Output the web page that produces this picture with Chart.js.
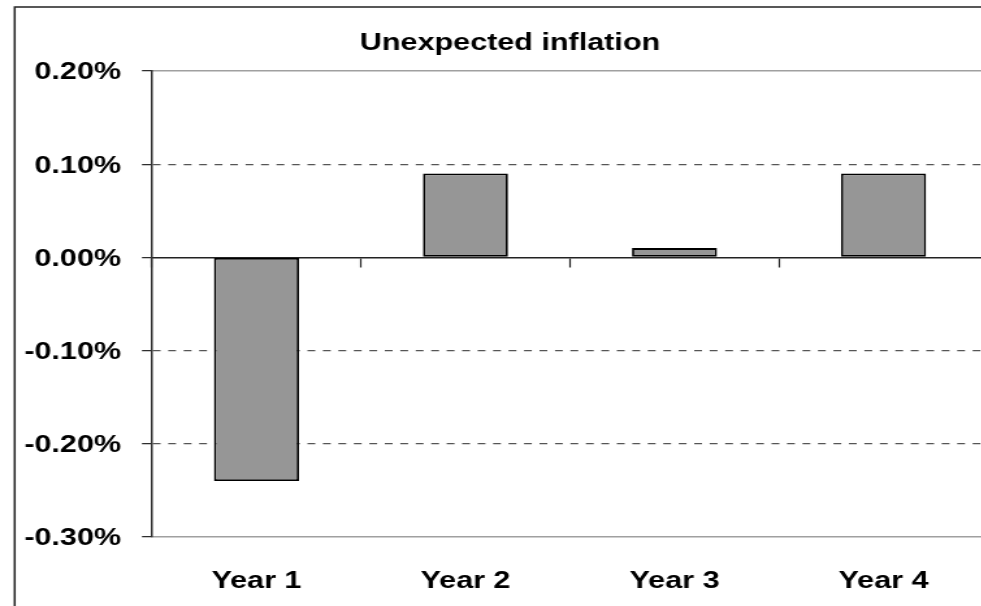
<!DOCTYPE html>
<html>
<head>
<meta charset="utf-8">
<title>Unexpected inflation</title>
<script src="https://cdn.jsdelivr.net/npm/chart.js@4.4.0/dist/chart.umd.min.js"></script>
<style>
  html, body { margin: 0; padding: 0; background: #fff; overflow: hidden; }
</style>
</head>
<body>
<!-- drawn 790 wide, shown 1.3x wider so the bold labels come out broad -->
<canvas id="chart" width="790" height="606" style="width:1027px;height:606px;"></canvas>
<script>
// values in percent
const years = ["Year 1", "Year 2", "Year 3", "Year 4"];
const inflation = [-0.24, 0.09, 0.01, 0.09];
const yMin = -0.30;
const yMax = 0.20;
const yStep = 0.10;
const chartTitle = "Unexpected inflation";

const boldFont = { family: "'Liberation Sans', Arial, sans-serif", size: 23.5, weight: "bold" };

const isEdgeOrZero = v => Math.abs(v) < 1e-9 || Math.abs(v - yMax) < 1e-9 || Math.abs(v - yMin) < 1e-9;

// white page + thin frame on the left and top
const framePlugin = {
  id: "frame",
  beforeDraw(chart) {
    const ctx = chart.ctx;
    ctx.save();
    ctx.fillStyle = "#fff";
    ctx.fillRect(0, 0, chart.width, chart.height);
    ctx.strokeStyle = "#222";
    ctx.lineWidth = 1.5;
    ctx.beginPath();
    ctx.moveTo(11.3, chart.height);
    ctx.lineTo(11.3, 7);
    ctx.lineTo(chart.width, 7);
    ctx.stroke();
    ctx.restore();
  }
};

new Chart(document.getElementById("chart"), {
  type: "bar",
  data: {
    labels: years,
    datasets: [{
      data: inflation,
      backgroundColor: "#969696",
      borderColor: "#000",
      borderWidth: 1.8,
      borderSkipped: false,
      barPercentage: 0.407,
      categoryPercentage: 1
    }]
  },
  options: {
    responsive: false,
    animation: false,
    devicePixelRatio: 1,
    layout: { padding: { left: 0, right: 5.4, top: 0, bottom: 0 } },
    plugins: {
      legend: { display: false },
      tooltip: { enabled: false },
      title: {
        display: true,
        text: chartTitle,
        color: "#000",
        font: boldFont,
        padding: { top: 29.3, bottom: 13.5 }
      }
    },
    scales: {
      x: {
        position: "bottom",
        grid: { display: false, drawTicks: false },
        border: { display: true, color: "#a0a0a0", width: 1.5 },
        ticks: { color: "#000", font: boldFont, padding: 30 },
        afterFit(s) { s.height = 69; }
      },
      xTop: {
        type: "category",
        position: "top",
        grid: { display: false, drawTicks: false },
        ticks: { display: false },
        border: { display: true, color: "#a0a0a0", width: 1.5 },
        afterFit(s) { s.height = 0; }
      },
      // zero line with small ticks between the years
      xZero: {
        type: "category",
        position: { y: 0 },
        offset: true,
        grid: { offset: true, drawOnChartArea: false, drawTicks: true, tickLength: 9, tickColor: "#222", tickWidth: 1.2 },
        ticks: { display: false },
        border: { display: true, color: "#222", width: 1.5 },
        afterFit(s) { s.height = 0; }
      },
      y: {
        min: yMin,
        max: yMax,
        ticks: {
          stepSize: yStep,
          color: "#000",
          font: boldFont,
          padding: 16.1,
          labelOffset: 2,
          callback: v => Number(v).toFixed(2) + "%"
        },
        grid: {
          color: c => (c.tick && isEdgeOrZero(c.tick.value)) ? "rgba(0,0,0,0)" : "#555",
          lineWidth: 1.3,
          drawTicks: true,
          tickLength: 7.7,
          tickColor: "#222",
          tickWidth: 1.2
        },
        border: { display: true, color: "#333", width: 1.5, dash: [6, 5.9] },
        afterFit(s) { s.width = 116.9; }
      },
      // empty strip on the right so the title sits a little right of centre
      yPad: {
        type: "linear",
        position: "right",
        grid: { display: false, drawTicks: false },
        ticks: { display: false },
        border: { display: false },
        afterFit(s) { s.width = 24.6; }
      }
    }
  },
  plugins: [framePlugin]
});
</script>
</body>
</html>
